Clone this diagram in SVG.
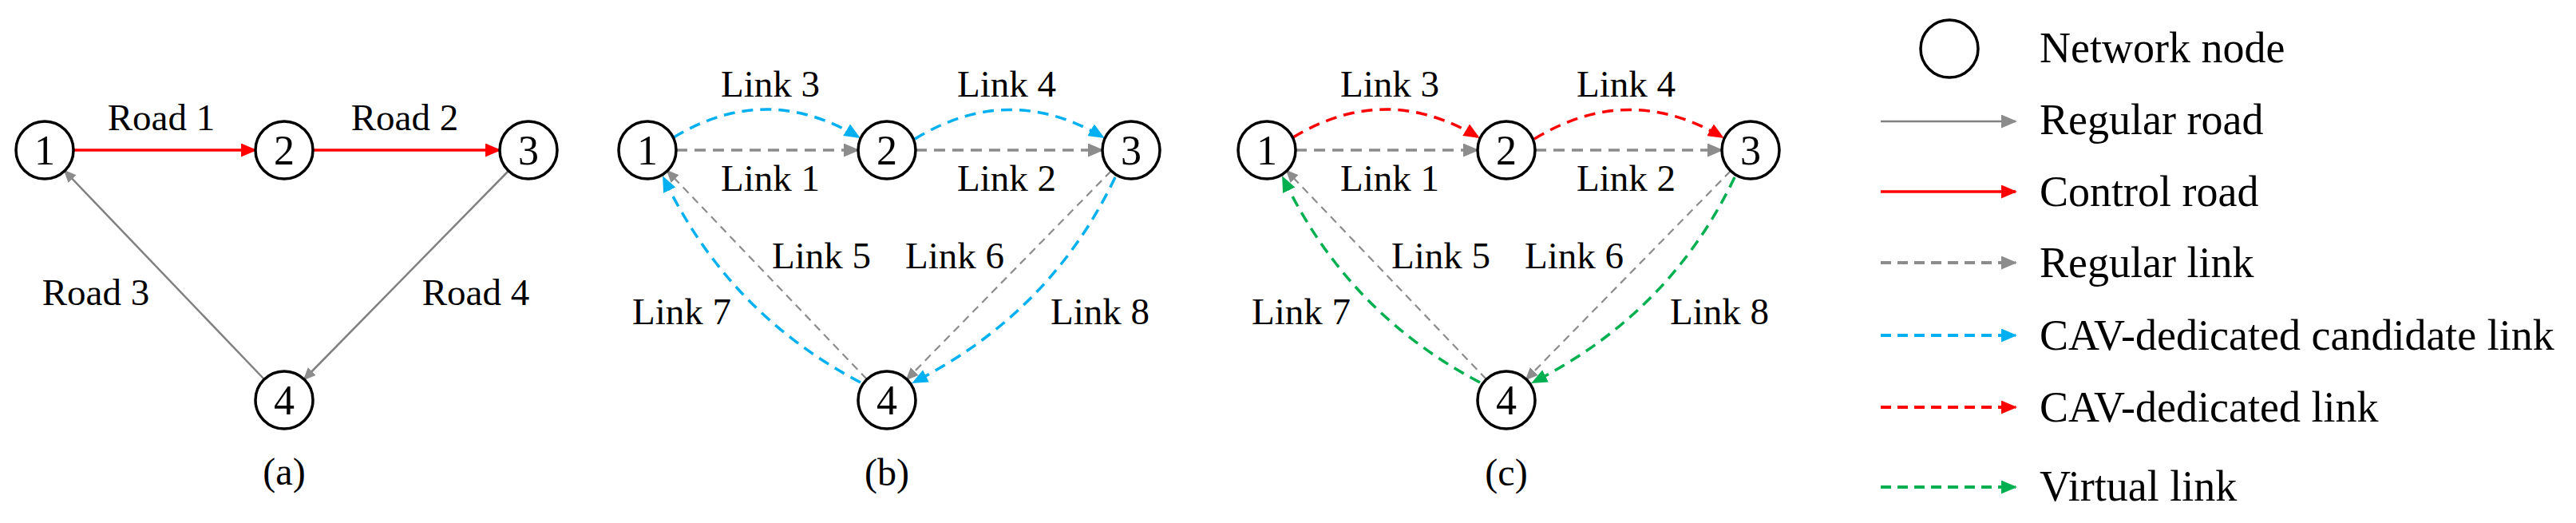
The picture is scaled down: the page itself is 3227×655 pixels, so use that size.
<svg xmlns="http://www.w3.org/2000/svg" width="3227" height="655" viewBox="0 0 3227 655">
<style>
text{font-family:"Liberation Serif","Times New Roman",serif;fill:#000}
.node circle{fill:#fff;stroke:#000;stroke-width:3.5}
.node text{font-size:52px;text-anchor:middle}
.lbl{font-size:47px;text-anchor:middle}
.cap{font-size:48px;text-anchor:middle}
.leg{font-size:54px}
.c{fill:none}
.road{stroke:#808080;stroke-width:2.5}
.ctrl{stroke:#ff0000;stroke-width:3.5}
.link{stroke:#8c8c8c;stroke-width:3.5;stroke-dasharray:14 9}
.thin{stroke:#8c8c8c;stroke-width:2.2;stroke-dasharray:10 7}
.cand{stroke:#00b0f0;stroke-width:3.5;stroke-dasharray:14 9}
.ded{stroke:#ff0000;stroke-width:3.5;stroke-dasharray:14 9}
.virt{stroke:#00b050;stroke-width:3.5;stroke-dasharray:14 9}
.lg{stroke-width:4;stroke-dasharray:13 8}
</style>
<defs>
<marker id="mg" markerUnits="userSpaceOnUse" markerWidth="20" markerHeight="17" viewBox="0 0 20 17" refX="18" refY="8.5" orient="auto"><path d="M0 0L20 8.5L0 17z" fill="#8c8c8c"/></marker>
<marker id="mgs" markerUnits="userSpaceOnUse" markerWidth="16" markerHeight="14" viewBox="0 0 16 14" refX="14" refY="7" orient="auto"><path d="M0 0L16 7L0 14z" fill="#8c8c8c"/></marker>
<marker id="mr" markerUnits="userSpaceOnUse" markerWidth="20" markerHeight="17" viewBox="0 0 20 17" refX="18" refY="8.5" orient="auto"><path d="M0 0L20 8.5L0 17z" fill="#ff0000"/></marker>
<marker id="mc" markerUnits="userSpaceOnUse" markerWidth="20" markerHeight="17" viewBox="0 0 20 17" refX="18" refY="8.5" orient="auto"><path d="M0 0L20 8.5L0 17z" fill="#00b0f0"/></marker>
<marker id="mv" markerUnits="userSpaceOnUse" markerWidth="20" markerHeight="17" viewBox="0 0 20 17" refX="18" refY="8.5" orient="auto"><path d="M0 0L20 8.5L0 17z" fill="#00b050"/></marker>
</defs>

<g id="connectors" class="c">
  <g id="conn-a">
    <path id="road1" class="c ctrl" d="M92 188L320 188" marker-end="url(#mr)"/>
    <path id="road2" class="c ctrl" d="M392 188L626 188" marker-end="url(#mr)"/>
    <path id="road3" class="c road" d="M331 475L81 214" marker-end="url(#mgs)"/>
    <path id="road4" class="c road" d="M637 214L381 475" marker-end="url(#mgs)"/>
  </g>
  <g id="conn-b" transform="translate(755,0)">
    <path id="b-link1" class="c link" d="M92 188L320 188" marker-end="url(#mg)"/>
    <path id="b-link2" class="c link" d="M392 188L626 188" marker-end="url(#mg)"/>
    <path id="b-link3" class="c cand" d="M89 172Q205 102 321 172" marker-end="url(#mc)"/>
    <path id="b-link4" class="c cand" d="M391 174Q509 102 627 172" marker-end="url(#mc)"/>
    <path id="b-link5" class="c thin" d="M331 475L81 214" marker-end="url(#mgs)"/>
    <path id="b-link6" class="c thin" d="M637 214L381 475" marker-end="url(#mgs)"/>
    <path id="b-link7" class="c cand" d="M323 479Q157 392 76 222" marker-end="url(#mc)"/>
    <path id="b-link8" class="c cand" d="M642 222Q561 392 389 479" marker-end="url(#mc)"/>
  </g>
  <g id="conn-c" transform="translate(1531,0)">
    <path id="c-link1" class="c link" d="M92 188L320 188" marker-end="url(#mg)"/>
    <path id="c-link2" class="c link" d="M392 188L626 188" marker-end="url(#mg)"/>
    <path id="c-link3" class="c ded" d="M89 172Q205 102 321 172" marker-end="url(#mr)"/>
    <path id="c-link4" class="c ded" d="M391 174Q509 102 627 172" marker-end="url(#mr)"/>
    <path id="c-link5" class="c thin" d="M331 475L81 214" marker-end="url(#mgs)"/>
    <path id="c-link6" class="c thin" d="M637 214L381 475" marker-end="url(#mgs)"/>
    <path id="c-link7" class="c virt" d="M323 479Q157 392 76 222" marker-end="url(#mv)"/>
    <path id="c-link8" class="c virt" d="M642 222Q561 392 389 479" marker-end="url(#mv)"/>
  </g>
  <g id="conn-legend">
    <path class="c road" d="M2356 152L2525 152" marker-end="url(#mg)"/>
    <path class="c ctrl" d="M2356 240L2525 240" marker-end="url(#mr)"/>
    <path class="c link lg" d="M2356 329L2525 329" marker-end="url(#mg)"/>
    <path class="c cand lg" d="M2356 420L2525 420" marker-end="url(#mc)"/>
    <path class="c ded lg" d="M2356 510L2525 510" marker-end="url(#mr)"/>
    <path class="c virt lg" d="M2356 610L2525 610" marker-end="url(#mv)"/>
  </g>
</g>

<g id="panel-a">
  <g id="a-n1" class="node"><circle cx="56" cy="188" r="36"/><text x="56" y="206">1</text></g>
  <g id="a-n2" class="node"><circle cx="356" cy="188" r="36"/><text x="356" y="206">2</text></g>
  <g id="a-n3" class="node"><circle cx="662" cy="188" r="36"/><text x="662" y="206">3</text></g>
  <g id="a-n4" class="node"><circle cx="356" cy="501" r="36"/><text x="356" y="519">4</text></g>
  <text class="lbl" x="202" y="163">Road 1</text>
  <text class="lbl" x="507" y="163">Road 2</text>
  <text class="lbl" x="120" y="382">Road 3</text>
  <text class="lbl" x="596" y="382">Road 4</text>
  <text class="cap" x="356" y="607">(a)</text>
</g>

<g id="panel-b" transform="translate(755,0)">
  <g id="b-n1" class="node"><circle cx="56" cy="188" r="36"/><text x="56" y="206">1</text></g>
  <g id="b-n2" class="node"><circle cx="356" cy="188" r="36"/><text x="356" y="206">2</text></g>
  <g id="b-n3" class="node"><circle cx="662" cy="188" r="36"/><text x="662" y="206">3</text></g>
  <g id="b-n4" class="node"><circle cx="356" cy="501" r="36"/><text x="356" y="519">4</text></g>
  <text class="lbl" x="210" y="121">Link 3</text>
  <text class="lbl" x="506" y="121">Link 4</text>
  <text class="lbl" x="210" y="239">Link 1</text>
  <text class="lbl" x="506" y="239">Link 2</text>
  <text class="lbl" x="274" y="336">Link 5</text>
  <text class="lbl" x="441" y="336">Link 6</text>
  <text class="lbl" x="99" y="406">Link 7</text>
  <text class="lbl" x="623" y="406">Link 8</text>
  <text class="cap" x="356" y="608">(b)</text>
</g>

<g id="panel-c" transform="translate(1531,0)">
  <g id="c-n1" class="node"><circle cx="56" cy="188" r="36"/><text x="56" y="206">1</text></g>
  <g id="c-n2" class="node"><circle cx="356" cy="188" r="36"/><text x="356" y="206">2</text></g>
  <g id="c-n3" class="node"><circle cx="662" cy="188" r="36"/><text x="662" y="206">3</text></g>
  <g id="c-n4" class="node"><circle cx="356" cy="501" r="36"/><text x="356" y="519">4</text></g>
  <text class="lbl" x="210" y="121">Link 3</text>
  <text class="lbl" x="506" y="121">Link 4</text>
  <text class="lbl" x="210" y="239">Link 1</text>
  <text class="lbl" x="506" y="239">Link 2</text>
  <text class="lbl" x="274" y="336">Link 5</text>
  <text class="lbl" x="441" y="336">Link 6</text>
  <text class="lbl" x="99" y="406">Link 7</text>
  <text class="lbl" x="623" y="406">Link 8</text>
  <text class="cap" x="356" y="608">(c)</text>
</g>

<g id="legend">
  <g id="legend-node" class="node"><circle cx="2442" cy="61" r="36"/></g>
  <text class="leg" x="2555" y="78">Network node</text>
  <text class="leg" x="2555" y="168">Regular road</text>
  <text class="leg" x="2555" y="258">Control road</text>
  <text class="leg" x="2555" y="347">Regular link</text>
  <text class="leg" x="2555" y="438">CAV-dedicated candidate link</text>
  <text class="leg" x="2555" y="528">CAV-dedicated link</text>
  <text class="leg" x="2555" y="627">Virtual link</text>
</g>
</svg>
